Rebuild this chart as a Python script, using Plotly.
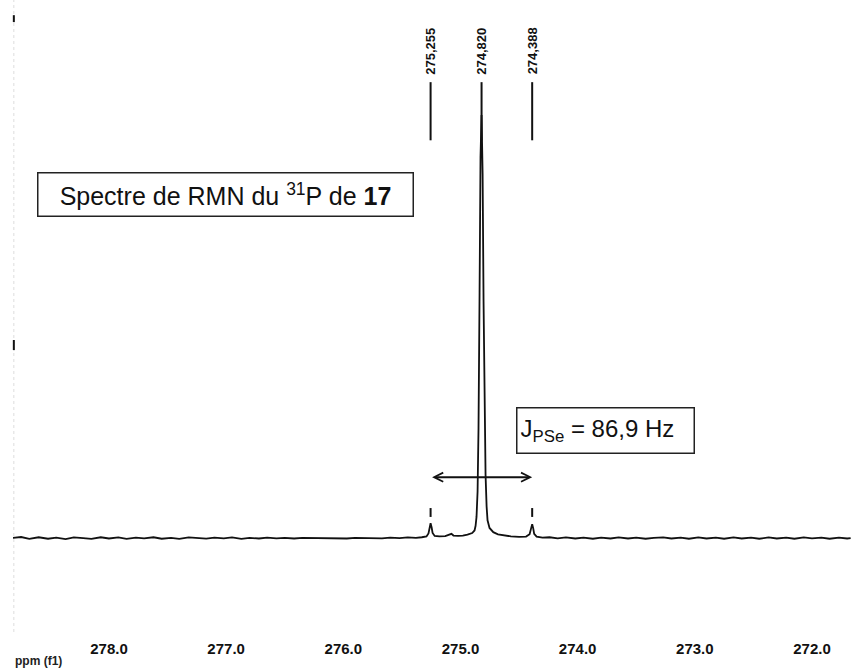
"""Spectre RMN 31P - recreation avec Plotly."""

import plotly.graph_objects as go

# spectre (ppm, intensite relative)
PPM = [
    278.83, 278.75, 278.68, 278.60, 278.52, 278.45, 278.37, 278.30, 278.22, 278.15,
    278.07, 278.00, 277.92, 277.85, 277.77, 277.70, 277.62, 277.55, 277.47, 277.40,
    277.32, 277.25, 277.17, 277.10, 277.02, 276.95, 276.87, 276.80, 276.72, 276.65,
    276.57, 276.50, 276.42, 276.35, 276.27, 276.20, 276.12, 276.05, 275.97, 275.90,
    275.82, 275.75, 275.67, 275.60, 275.52, 275.45, 275.38, 275.33, 275.29, 275.273,
    275.264, 275.255, 275.246, 275.238, 275.22, 275.18, 275.13, 275.095, 275.077, 275.06,
    275.02, 274.98, 274.94, 274.90, 274.88, 274.871, 274.863, 274.854, 274.846, 274.837,
    274.829, 274.820, 274.811, 274.803, 274.794, 274.786, 274.777, 274.769, 274.752, 274.72,
    274.68, 274.63, 274.57, 274.50, 274.44, 274.41, 274.397, 274.388, 274.379, 274.371,
    274.35, 274.30, 274.24, 274.17, 274.10, 274.02, 273.95, 273.87, 273.80, 273.72,
    273.65, 273.57, 273.50, 273.42, 273.35, 273.27, 273.20, 273.12, 273.05, 272.97,
    272.90, 272.82, 272.75, 272.67, 272.60, 272.52, 272.45, 272.37, 272.30, 272.22,
    272.15, 272.07, 272.00, 271.92, 271.85, 271.77, 271.70, 271.67,
]
INTENSITY = [
    0.0, 0.25, -0.2, 0.2, -0.15, 0.1, -0.25, 0.15, 0.0, -0.2,
    0.2, -0.1, 0.15, -0.2, 0.1, -0.05, 0.2, -0.15, 0.05, -0.2,
    0.15, 0.0, -0.15, 0.1, -0.05, 0.15, -0.2, 0.05, -0.1, 0.1,
    -0.05, 0.05, -0.1, 0.05, 0.0, -0.05, 0.05, 0.0, -0.1, 0.05,
    0.0, 0.05, -0.05, 0.1, 0.0, 0.15, 0.05, 0.2, 0.4, 1.1,
    2.4, 3.5, 2.5, 1.2, 0.5, 0.4, 0.45, 0.7, 1.0, 0.6,
    0.5, 0.6, 0.8, 1.2, 1.8, 2.9, 5.0, 11.0, 26.0, 58.0,
    90.0, 100.0, 86.0, 56.0, 30.0, 15.0, 7.5, 4.2, 2.4, 1.4,
    0.9, 0.6, 0.4, 0.3, 0.35, 0.9, 2.2, 3.3, 2.3, 1.0,
    0.35, 0.1, 0.2, -0.05, 0.15, -0.1, 0.1, -0.15, 0.1, -0.1,
    0.15, -0.1, 0.1, -0.15, 0.05, 0.15, -0.1, 0.1, -0.15, 0.15,
    -0.1, 0.1, -0.15, 0.15, -0.1, 0.1, -0.15, 0.15, -0.1, 0.1,
    -0.15, 0.15, -0.05, 0.1, -0.15, 0.1, -0.1, 0.0,
]

PEAK_PPM = [275.255, 274.820, 274.388]
PEAK_LABELS = ["275,255", "274,820", "274,388"]
SATELLITE_PPM = [275.255, 274.388]

TICK_PPM = [278, 277, 276, 275, 274, 273, 272]
TICK_LABELS = ["278.0", "277.0", "276.0", "275.0", "274.0", "273.0", "272.0"]

J_ARROW_Y = 14.4
FONT = "Liberation Sans, Arial, sans-serif"

fig = go.Figure()
fig.add_trace(go.Scatter(
    x=PPM, y=INTENSITY, mode="lines",
    line=dict(color="#111111", width=1.8),
    hoverinfo="skip", showlegend=False,
))

shapes = []
# traits de pointage des pics en haut
for p in PEAK_PPM:
    shapes.append(dict(type="line", xref="x", yref="paper", x0=p, x1=p,
                       y0=0.778, y1=0.870, line=dict(color="#111111", width=2)))
# petits traits au-dessus des satellites
for p in SATELLITE_PPM:
    shapes.append(dict(type="line", xref="x", yref="y", x0=p, x1=p,
                       y0=5.0, y1=7.1, line=dict(color="#111111", width=2)))
# axe d'intensite (pointille pale + deux reperes)
shapes.append(dict(type="line", xref="paper", yref="paper", x0=0.001, x1=0.001,
                   y0=0, y1=1, line=dict(color="#dddddd", width=1, dash="dot")))
shapes.append(dict(type="line", xref="paper", yref="paper", x0=0.001, x1=0.001,
                   y0=0.965, y1=0.976, line=dict(color="#111111", width=2)))
shapes.append(dict(type="line", xref="paper", yref="paper", x0=0.001, x1=0.001,
                   y0=0.446, y1=0.462, line=dict(color="#111111", width=2)))

annotations = []
for p, lab in zip(PEAK_PPM, PEAK_LABELS):
    annotations.append(dict(
        x=p, y=0.919, xref="x", yref="paper", xanchor="center", yanchor="middle",
        text=f"<b>{lab}</b>", textangle=-90, showarrow=False,
        font=dict(family=FONT, size=13, color="#111111"),
    ))

# double fleche du couplage
annotations.append(dict(
    x=SATELLITE_PPM[1], y=J_ARROW_Y, ax=SATELLITE_PPM[0], ay=J_ARROW_Y,
    xref="x", yref="y", axref="x", ayref="y", text="",
    showarrow=True, arrowside="end+start", arrowhead=5, startarrowhead=5,
    arrowsize=0.9, startarrowsize=0.9, arrowwidth=2, arrowcolor="#111111",
    standoff=0, startstandoff=0,
))

annotations.append(dict(
    x=0.2536, y=0.6915, xref="paper", yref="paper", xanchor="center", yanchor="middle",
    text="Spectre de RMN du <sup>31</sup>P de <b>17</b>",
    showarrow=False, font=dict(family=FONT, size=25, color="#111111"),
    width=368, height=36, borderpad=3, bordercolor="#222222", borderwidth=1.5,
    bgcolor="white", align="center", valign="middle",
))
annotations.append(dict(
    x=0.7076, y=0.3196, xref="paper", yref="paper", xanchor="center", yanchor="middle",
    text="J<sub>PSe</sub> = 86,9 Hz",
    showarrow=False, font=dict(family=FONT, size=24, color="#111111"),
    width=170, height=38, borderpad=3, bordercolor="#222222", borderwidth=1.5,
    bgcolor="white", align="left", valign="middle",
))
annotations.append(dict(
    x=0, y=0, xref="paper", yref="paper", xanchor="left", yanchor="top",
    yshift=-20, text="<b>ppm (f1)</b>", showarrow=False,
    font=dict(family=FONT, size=12, color="#222222"),
))

fig.update_layout(
    width=851, height=670,
    margin=dict(l=13, r=0, t=0, b=38),
    paper_bgcolor="white", plot_bgcolor="white",
    xaxis=dict(
        range=[278.819, 271.667], tickvals=TICK_PPM, ticktext=TICK_LABELS,
        showgrid=False, zeroline=False, showline=False, ticks="",
        ticklabelstandoff=6,
        tickfont=dict(family=FONT, size=15, color="#111111", weight="bold"),
    ),
    yaxis=dict(range=[-22.2, 127.2], visible=False),
    shapes=shapes,
    annotations=annotations,
    showlegend=False,
)

# la page ajoute une marge de 8 px au body : on la retire
fig.write_html(
    "out.html",
    config={"displayModeBar": False},
    post_script="document.body.style.margin='0px';",
)
